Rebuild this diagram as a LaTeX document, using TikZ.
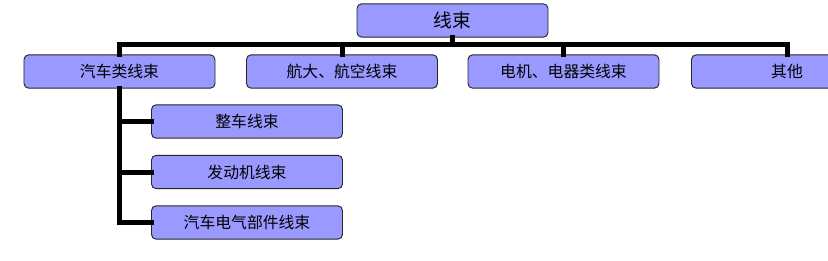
\documentclass[tikz,border=0pt]{standalone}
\usepackage{fontspec}
\setmainfont{Noto Sans CJK SC}
\definecolor{boxblue}{HTML}{9999FF}
\tikzset{
  unitbox/.style={draw=black!85, fill=boxblue, line width=0.8pt, rounded corners=1.4mm,
    minimum width=57.3mm, minimum height=10mm, inner sep=0pt, font=\fontsize{13.5}{15}\selectfont},
  rootbox/.style={unitbox, font=\fontsize{16}{18}\selectfont},
  conn/.style={line width=1.5mm, line cap=rect}
}
\begin{document}
\begin{tikzpicture}[x=0.3mm, y=-0.3mm]
\useasboundingbox (0,0) rectangle (828,261);

% ===== Các hộp =====
\node[rootbox] (root) at (452.5,20.5) {线束};
\node[unitbox] (car) at (119.5,71.5) {汽车类线束};
\node[unitbox] (air) at (342,71.5) {航大、航空线束};
\node[unitbox] (motor) at (563.5,71.5) {电机、电器类线束};
\node[unitbox] (other) at (787,71.5) {其他};
\node[unitbox] (whole) at (247,121.5) {整车线束};
\node[unitbox] (engine) at (247,172) {发动机线束};
\node[unitbox] (elec) at (247,222.5) {汽车电气部件线束};

% ===== Thanh ngang =====
\coordinate (bar) at (452.5,45);
\draw[conn] (root.south) -- (root.south |- bar);
\draw[conn] (car.north |- bar) -- (other.north |- bar);
\foreach \n in {car,air,motor,other} {
    \draw[conn] (\n.north |- bar) -- (\n.north);
}

% ===== Nhánh con =====
\foreach \n in {whole,engine,elec} {
    \draw[conn] (car.south) |- (\n.west);
}

\end{tikzpicture}
\end{document}
